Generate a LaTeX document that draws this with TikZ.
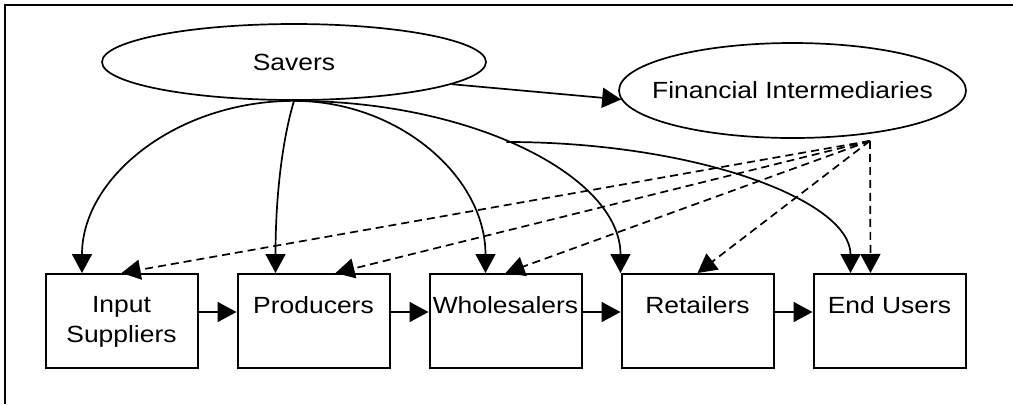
\documentclass[tikz,border=0pt]{standalone}
\usepackage{fontspec}
\setmainfont{Liberation Sans}[FakeStretch=1.13]
\usetikzlibrary{arrows.meta,positioning,shapes.geometric}
\tikzset{
  stagebox/.style={
    draw,
    line width=1pt,
    minimum width=76pt,
    minimum height=47pt,
    inner sep=0pt
  },
  stagetext/.style={
    anchor=north,
    inner sep=0pt,
    yshift=-11.5pt,
    align=center,
    font=\fontsize{11.7}{15}\selectfont
  },
  groupellipse/.style={
    ellipse,
    draw,
    line width=0.85pt,
    inner sep=0pt,
    font=\fontsize{11.7}{15}\selectfont
  },
  flowarrow/.style={
    -{Triangle[length=9.5pt,width=10pt]},
    line width=0.85pt
  },
  fundarrow/.style={
    flowarrow,
    dash pattern=on 4pt off 2.5pt
  },
  frameline/.style={line width=1.2pt}
}

\begin{document}
\begin{tikzpicture}[x=0.5pt, y=-0.5pt, node distance=19pt]
\useasboundingbox (0,0) rectangle (1013,404);
\draw[frameline] (5,404) -- (5,5) -- (1013,5);
% where the money comes from
\node[groupellipse, minimum width=192pt, minimum height=38pt] (savers) at (294,62) {Savers};
\node[groupellipse, minimum width=173.5pt, minimum height=47.5pt, inner xsep=-12pt] (fi) at (792.5,90.5) {Financial Intermediaries};
% the chain
\node[stagebox, label={[stagetext]north:Input\\Suppliers}] (input) at (121.5,321) {};
\node[stagebox, right=of input, label={[stagetext]north:Producers}] (prod) {};
\node[stagebox, right=of prod, label={[stagetext]north:Wholesalers}] (whole) {};
\node[stagebox, right=of whole, label={[stagetext]north:Retailers}] (retail) {};
\node[stagebox, right=of retail, label={[stagetext]north:End Users}] (enduser) {};
\draw[flowarrow] ([yshift=4.5pt]input.east) -- ([yshift=4.5pt]prod.west);
\draw[flowarrow] ([yshift=4.5pt]prod.east) -- ([yshift=4.5pt]whole.west);
\draw[flowarrow] ([yshift=4.5pt]whole.east) -- ([yshift=4.5pt]retail.west);
\draw[flowarrow] ([yshift=4.5pt]retail.east) -- ([yshift=4.5pt]enduser.west);
% direct finance
\draw[flowarrow] (savers.-8) -- (fi.183);
\draw[flowarrow] (savers.south) .. controls +(-117,0) and +(0,-96) .. ([xshift=-19.75pt]input.north);
\draw[flowarrow] (savers.south) .. controls +(-12,40) and +(0,-75) .. ([xshift=-19pt]prod.north);
\draw[flowarrow] (savers.south) .. controls +(105,0) and +(0,-96) .. ([xshift=-10pt]whole.north);
\draw[flowarrow] (savers.south) .. controls +(180,0) and +(0,-96) .. (retail.north west) coordinate[pos=0.45] (branch);
\draw[flowarrow] (branch) .. controls +(189,0) and +(0,-73) .. ([xshift=-19.5pt]enduser.north);
% indirect finance
\coordinate (fitap) at ([shift={(77.5,2)}]fi.south);
\draw[fundarrow] (fitap) -- (input.north);
\draw[fundarrow] (fitap) -- ([xshift=11pt]prod.north);
\draw[fundarrow] (fitap) -- (whole.north);
\draw[fundarrow] (fitap) -- (retail.north);
\draw[fundarrow] (fitap) -- ([xshift=-9.5pt]enduser.north);
\end{tikzpicture}
\end{document}
